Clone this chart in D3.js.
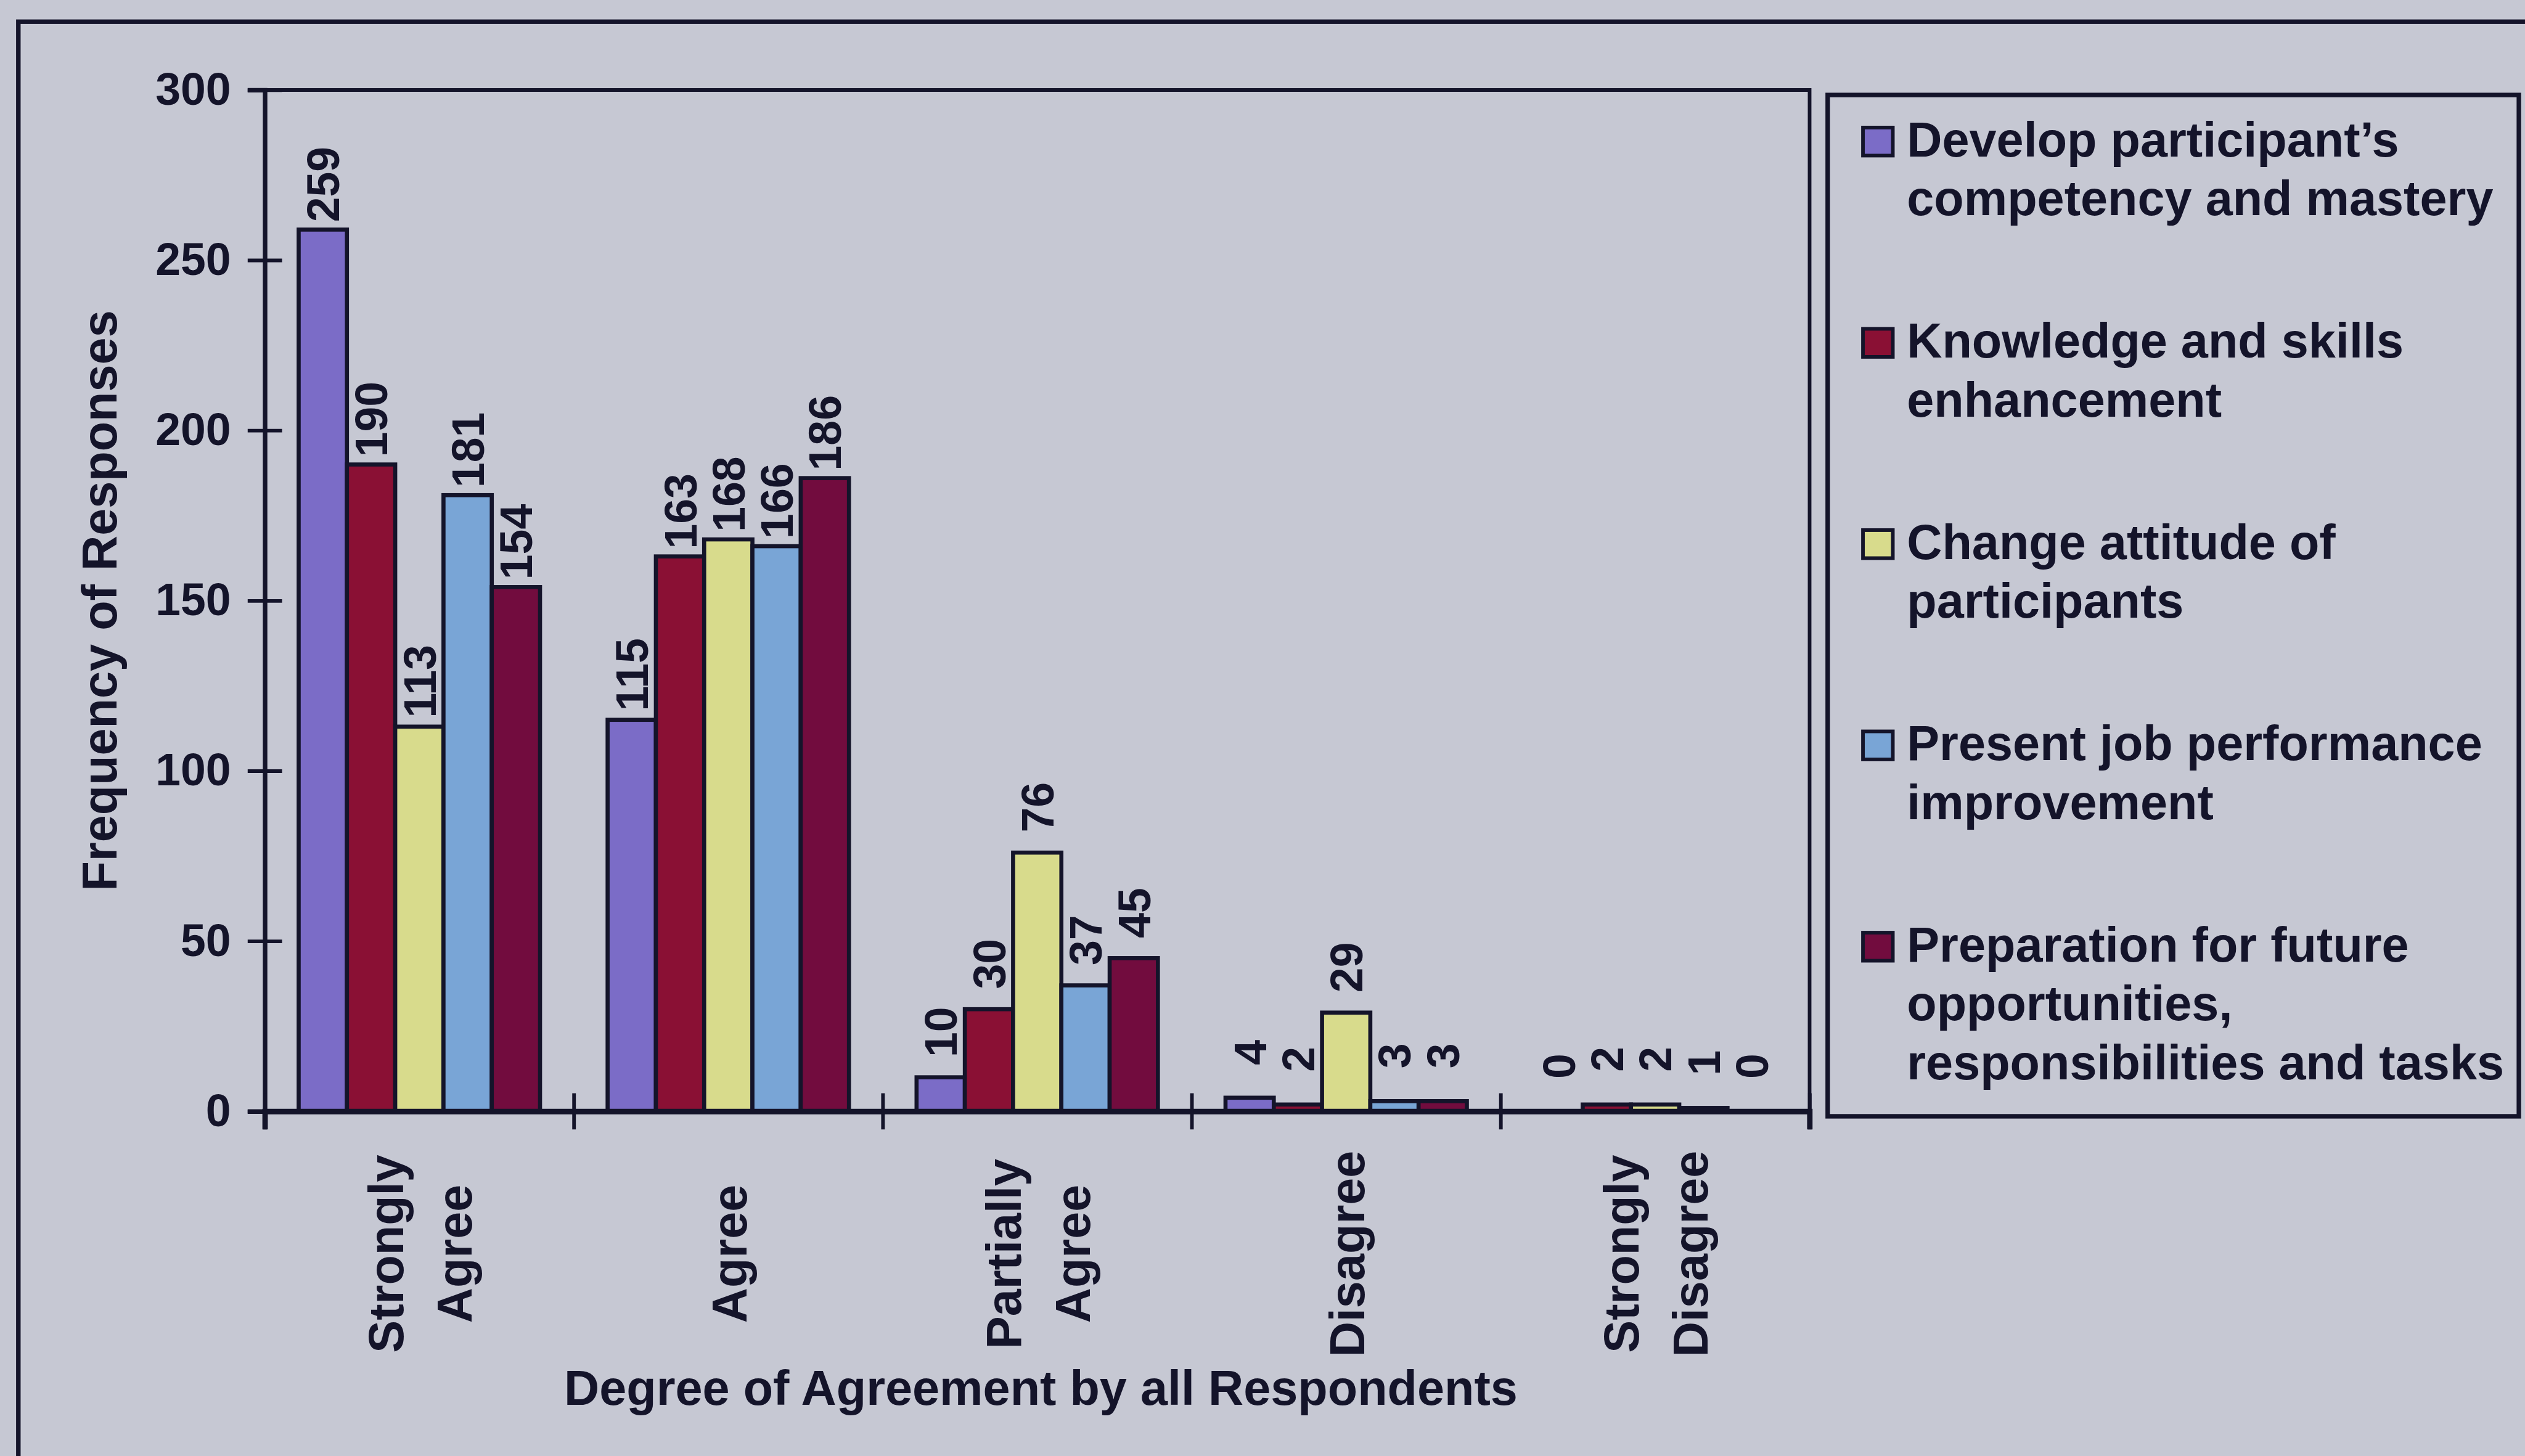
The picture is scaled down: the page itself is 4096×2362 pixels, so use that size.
<!DOCTYPE html>
<html><head><meta charset="utf-8">
<script src="https://cdn.jsdelivr.net/npm/d3@7"></script>
<style>html,body{margin:0;padding:0;background:#c6c8d3;overflow:hidden}</style>
</head><body>
<svg id="chart"></svg>
<script>
// ---- data ----
const categories = [["Strongly","Agree"],["Agree"],["Partially","Agree"],["Disagree"],["Strongly","Disagree"]];
const seriesLabels = [
  ["Develop participant\u2019s","competency and mastery"],
  ["Knowledge and skills","enhancement"],
  ["Change attitude of","participants"],
  ["Present job performance","improvement"],
  ["Preparation for future","opportunities,","responsibilities and tasks"]
];
const develop     = [259, 115, 10, 4, 0];
const knowledge   = [190, 163, 30, 2, 2];
const change      = [113, 168, 76, 29, 2];
const present     = [181, 166, 37, 3, 1];
const preparation = [154, 186, 45, 3, 0];
const seriesValues = [develop, knowledge, change, present, preparation];
const seriesColors = ["#7b6cc7", "#8a1034", "#d8db8c", "#79a5d6", "#720c3e"];
const yTicks = [0, 50, 100, 150, 200, 250, 300];
const yTitle = "Frequency of Responses";
const xTitle = "Degree of Agreement by all Respondents";

// ---- layout (reference pixel space, scaled by viewBox) ----
const W = 5581, H = 3219;
const ink = "#14142a";
const font = "'Liberation Sans', Arial, Helvetica, sans-serif";
const svg = d3.select("#chart")
  .attr("width", 4096).attr("height", 2362)
  .attr("viewBox", `0 0 ${W} ${H}`)
  .style("display", "block");

svg.append("rect").attr("width", W).attr("height", H).attr("fill", "#c6c8d3");

// outer frame (only top and left are visible)
svg.append("rect").attr("x", 40).attr("y", 48).attr("width", W + 200).attr("height", H + 200)
  .attr("fill", "none").attr("stroke", ink).attr("stroke-width", 10);

const L = 585, R = 4000, T = 199, B = 2457;
const y = d3.scaleLinear().domain([0, 300]).range([B, T]);
const x0 = d3.scaleBand().domain(d3.range(categories.length)).range([L, R]);
const x1 = d3.scaleBand().domain(d3.range(seriesValues.length)).range([0, x0.bandwidth()])
  .paddingInner(0).paddingOuter(0.7);
const xb = d3.scaleLinear().domain([0, categories.length]).range([L, R]);

// plot area frame (top & right)
svg.append("path").attr("d", `M${L},${T}H${R}V${B}`)
  .attr("fill", "none").attr("stroke", ink).attr("stroke-width", 8);

// bars
const rows = [];
seriesValues.forEach((vals, s) => vals.forEach((v, c) => rows.push({s, c, v})));
const gBars = svg.append("g");
gBars.selectAll("rect").data(rows).join("rect")
  .attr("x", d => x0(d.c) + x1(d.s))
  .attr("y", d => y(d.v))
  .attr("width", x1.bandwidth())
  .attr("height", d => y(0) - y(d.v))
  .attr("fill", d => seriesColors[d.s])
  .attr("stroke", ink).attr("stroke-width", 9);

// value labels
svg.append("g").selectAll("text").data(rows).join("text")
  .attr("transform", d => `translate(${x0(d.c) + x1(d.s) + x1.bandwidth() / 2 + 36},${y(d.v) - 100}) rotate(-90)`)
  .attr("text-anchor", "middle")
  .attr("font-family", font).attr("font-weight", "bold").attr("font-size", 100)
  .attr("fill", ink)
  .text(d => d.v);

// y axis
const gy = svg.append("g").attr("transform", `translate(${L},0)`)
  .call(d3.axisLeft(y).tickValues(yTicks).tickSize(38).tickPadding(37));
gy.select(".domain").attr("stroke", ink).attr("stroke-width", 10);
gy.selectAll(".tick line").attr("x1", 38).attr("x2", -38).attr("stroke", ink).attr("stroke-width", 8);
gy.selectAll(".tick text").attr("font-family", font).attr("font-weight", "bold")
  .attr("font-size", 100).attr("fill", ink);

// x axis
const gx = svg.append("g").attr("transform", `translate(0,${B})`)
  .call(d3.axisBottom(xb).tickValues(d3.range(categories.length + 1)).tickSize(40).tickFormat(""));
gx.select(".domain").attr("stroke", ink).attr("stroke-width", 12);
gx.selectAll(".tick line").attr("y1", -40).attr("y2", 40).attr("stroke", ink).attr("stroke-width", 8);

// category labels (rotated)
const lineGap = 152;
const gCat = svg.append("g");
categories.forEach((lines, c) => {
  const cx = x0(c) + x0.bandwidth() / 2;
  lines.forEach((ln, i) => {
    const bx = cx + (i - (lines.length - 1) / 2) * lineGap + 40;
    gCat.append("text")
      .attr("transform", `translate(${bx},2772) rotate(-90)`)
      .attr("text-anchor", "middle")
      .attr("font-family", font).attr("font-weight", "bold").attr("font-size", 108)
      .attr("fill", ink).text(ln);
  });
});

// axis titles
svg.append("text").attr("x", (L + R) / 2 + 8).attr("y", 3106)
  .attr("text-anchor", "middle")
  .attr("font-family", font).attr("font-weight", "bold").attr("font-size", 108)
  .attr("fill", ink).text(xTitle);
svg.append("text").attr("transform", `translate(257,${(T + B) / 2}) rotate(-90)`)
  .attr("text-anchor", "middle")
  .attr("font-family", font).attr("font-weight", "bold").attr("font-size", 108)
  .attr("fill", ink).text(yTitle);

// legend
svg.append("rect").attr("x", 4040).attr("y", 210).attr("width", 1528).attr("height", 2258)
  .attr("fill", "none").attr("stroke", ink).attr("stroke-width", 10);
const gLeg = svg.append("g");
seriesLabels.forEach((lines, s) => {
  const base = 346 + s * 445;
  gLeg.append("rect").attr("x", 4118).attr("y", base - 64).attr("width", 66).attr("height", 62)
    .attr("fill", seriesColors[s]).attr("stroke", ink).attr("stroke-width", 8);
  lines.forEach((ln, i) => {
    gLeg.append("text").attr("x", 4215).attr("y", base + i * 130)
      .attr("font-family", font).attr("font-weight", "bold").attr("font-size", 108)
      .attr("fill", ink).text(ln);
  });
});
</script>
</body></html>
